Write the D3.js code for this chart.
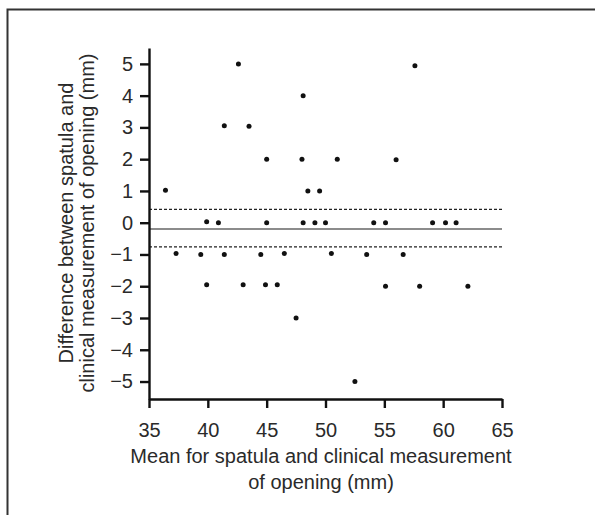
<!DOCTYPE html>
<html>
<head>
<meta charset="utf-8">
<script src="https://cdn.jsdelivr.net/npm/d3@7"></script>
<style>
  body { margin: 0; background: #fff; }
  svg text { font-family: "Liberation Sans", Arial, sans-serif; fill: #2a2a2a; }
</style>
</head>
<body>
<div id="app"></div>
<script>
// Bland-Altman data
const meanVals = [36.4, 37.3, 39.4, 39.9, 39.9, 40.9, 41.4, 41.4, 42.6, 43.0,
  43.5, 44.5, 45.0, 45.0, 44.9, 45.9, 46.5, 47.5, 48.1, 48.0,
  48.1, 48.5, 49.1, 49.5, 50.0, 50.5, 51.0, 52.5, 53.5, 54.1,
  55.1, 55.1, 56.0, 56.6, 57.6, 58.0, 59.1, 60.2, 61.1, 62.1];
const diffVals = [1.02, -0.97, -1, 0.03, -1.95, 0, 3.05, -1, 5, -1.95,
  3.04, -1, 2, 0, -1.95, -1.95, -0.97, -3, 4, 2,
  0, 1, 0, 1, 0, -0.97, 2, -5, -1, 0,
  0, -2, 1.98, -1, 4.94, -2, 0, 0, 0, -2];
const meanDiff = -0.2;
const limits = [0.42, -0.76];
const xTicks = [35, 40, 45, 50, 55, 60, 65];
const yTicks = [-5, -4, -3, -2, -1, 0, 1, 2, 3, 4, 5];
const xTitle = ["Mean for spatula and clinical measurement", "of opening (mm)"];
const yTitle = ["Difference between spatula and", "clinical measurement of opening (mm)"];

const w = 595, h = 515;
const fs = 20;
const svg = d3.select("#app").append("svg").attr("width", w).attr("height", h);

// frame (only left and top edges are visible)
svg.append("path")
  .attr("d", "M7.5,515 V9.5 H595")
  .attr("fill", "none")
  .attr("stroke", "#333")
  .attr("stroke-width", 2);

const xScale = d3.scaleLinear().domain([35, 65]).range([149, 502]);
const yScale = d3.scaleLinear().domain([-5.55, 5.5]).range([399, 48]);

// reference lines
svg.append("line")
  .attr("x1", xScale(35)).attr("x2", xScale(65))
  .attr("y1", yScale(meanDiff)).attr("y2", yScale(meanDiff))
  .attr("stroke", "#666").attr("stroke-width", 1.6);

svg.selectAll(".limit")
  .data(limits)
  .join("line")
  .attr("class", "limit")
  .attr("x1", xScale(35)).attr("x2", xScale(65))
  .attr("y1", (d) => yScale(d)).attr("y2", (d) => yScale(d))
  .attr("stroke", "#222").attr("stroke-width", 1.1)
  .attr("stroke-dasharray", "3,2");

// points
svg.selectAll(".dot")
  .data(meanVals.map((m, i) => [m, diffVals[i]]))
  .join("circle")
  .attr("class", "dot")
  .attr("cx", (d) => xScale(d[0]))
  .attr("cy", (d) => yScale(d[1]))
  .attr("r", 2.5)
  .attr("fill", "#111");

// axes
const fmt = (d) => (d < 0 ? "\u2212" + Math.abs(d) : d);
const xAxis = svg.append("g")
  .attr("transform", `translate(0,${yScale.range()[0]})`)
  .call(d3.axisBottom(xScale).tickValues(xTicks).tickSize(9).tickSizeOuter(0).tickPadding(15));
const yAxis = svg.append("g")
  .attr("transform", `translate(${xScale.range()[0]},0)`)
  .call(d3.axisLeft(yScale).tickValues(yTicks).tickFormat(fmt).tickSize(9).tickSizeOuter(0).tickPadding(7));

[xAxis, yAxis].forEach((g) => {
  g.select(".domain").attr("stroke", "#111").attr("stroke-width", 2.4);
  g.selectAll(".tick line").attr("stroke", "#111").attr("stroke-width", 2.4);
  g.selectAll(".tick text").attr("font-size", fs).attr("fill", "#2a2a2a")
    .style("font-family", "'Liberation Sans', Arial, sans-serif");
});

// axis titles
xTitle.forEach((t, i) => {
  svg.append("text")
    .attr("x", 321).attr("y", 463 + i * 26)
    .attr("text-anchor", "middle").attr("font-size", fs)
    .text(t);
});

yTitle.forEach((t, i) => {
  svg.append("text")
    .attr("transform", `translate(${73 + i * 21},223) rotate(-90)`)
    .attr("text-anchor", "middle").attr("font-size", fs)
    .text(t);
});
</script>
</body>
</html>
